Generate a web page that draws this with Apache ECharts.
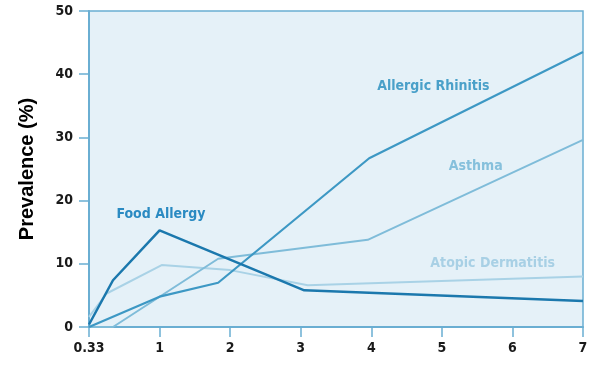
<!DOCTYPE html>
<html>
<head>
<meta charset="utf-8">
<script src="https://cdn.jsdelivr.net/npm/echarts@6/dist/echarts.min.js"></script>
<style>html,body{margin:0;padding:0;background:#fff}#c{width:600px;height:370px}</style>
</head>
<body>
<div id="c"></div>
<script>
// x positions are slots on the age axis: slot 0 = 0.33 yr, slot n = n yr
var xTickLabels = ['0.33', '1', '2', '3', '4', '5', '6', '7'];
var yTicks = [0, 10, 20, 30, 40, 50];

var foodAllergy = [[0, 0.4], [0.34, 7.4], [1.0, 15.3], [3.05, 5.8], [7, 4.1]];
var allergicRhinitis = [[0, 0], [1.0, 4.8], [1.83, 7.0], [3.97, 26.7], [7, 43.5]];
var asthma = [[0, 0], [0.34, 0], [1.83, 10.8], [3.95, 13.8], [7, 29.6]];
var atopicDermatitis = [[0, 1.6], [0.25, 5.3], [1.03, 9.8], [2.0, 9.0], [3.1, 6.6], [7, 8.0]];

var seriesNames = ['Food Allergy', 'Allergic Rhinitis', 'Asthma', 'Atopic Dermatitis'];
var labelAnchors = [[1.02, 17.8], [4.88, 38.1], [5.48, 25.4], [5.72, 10.0]];

var lineColors = ['#1b78ad', '#3d98c4', '#7fbcd9', '#a9d2e6'];
var labelColors = ['#2a8ac2', '#4aa0c9', '#86c0dc', '#a8d0e5'];
var widths = [2.5, 2.2, 2, 2];
var datas = [foodAllergy, allergicRhinitis, asthma, atopicDermatitis];

var condensed = '"Liberation Sans Narrow", "DejaVu Sans Condensed", "Roboto Condensed", sans-serif';

var series = datas.map(function (d, i) {
  return {
    name: seriesNames[i],
    type: 'line',
    data: d,
    symbol: 'none',
    z: 10 - i,
    lineStyle: { color: lineColors[i], width: widths[i] },
    markPoint: {
      symbol: 'circle', symbolSize: 0, silent: true,
      data: [{ coord: labelAnchors[i] }],
      label: {
        show: true, position: 'inside', formatter: seriesNames[i],
        color: labelColors[i], fontFamily: condensed, fontWeight: 'bold', fontSize: 14
      }
    }
  };
});

var chart = echarts.init(document.getElementById('c'), null, { renderer: 'canvas' });
chart.setOption({
  animation: false,
  grid: { left: 89, right: 17, top: 11, bottom: 43, show: true, backgroundColor: '#e5f1f8', borderColor: '#6aaed2', borderWidth: 1.5 },
  xAxis: {
    type: 'value', min: 0, max: 7, interval: 1,
    axisLine: { show: true, lineStyle: { color: '#6aaed2', width: 2 } },
    axisTick: { show: true, length: 10, lineStyle: { color: '#6aaed2', width: 1.5 } },
    splitLine: { show: false },
    axisLabel: {
      margin: 14, color: '#1a1a1a', fontFamily: condensed, fontWeight: 'bold', fontSize: 14,
      formatter: function (v) { return xTickLabels[Math.round(v)]; }
    }
  },
  yAxis: {
    type: 'value', min: yTicks[0], max: yTicks[yTicks.length - 1], interval: 10,
    name: 'Prevalence (%)', nameLocation: 'middle', nameGap: 52,
    nameTextStyle: { color: '#000', fontFamily: '"Liberation Sans", Arial, sans-serif', fontWeight: 'bold', fontSize: 20 },
    axisLine: { show: true, lineStyle: { color: '#6aaed2', width: 2 } },
    axisTick: { show: true, length: 10, lineStyle: { color: '#6aaed2', width: 1.5 } },
    splitLine: { show: false },
    axisLabel: { margin: 16, color: '#1a1a1a', fontFamily: condensed, fontWeight: 'bold', fontSize: 14 }
  },
  series: series
});
</script>
</body>
</html>
